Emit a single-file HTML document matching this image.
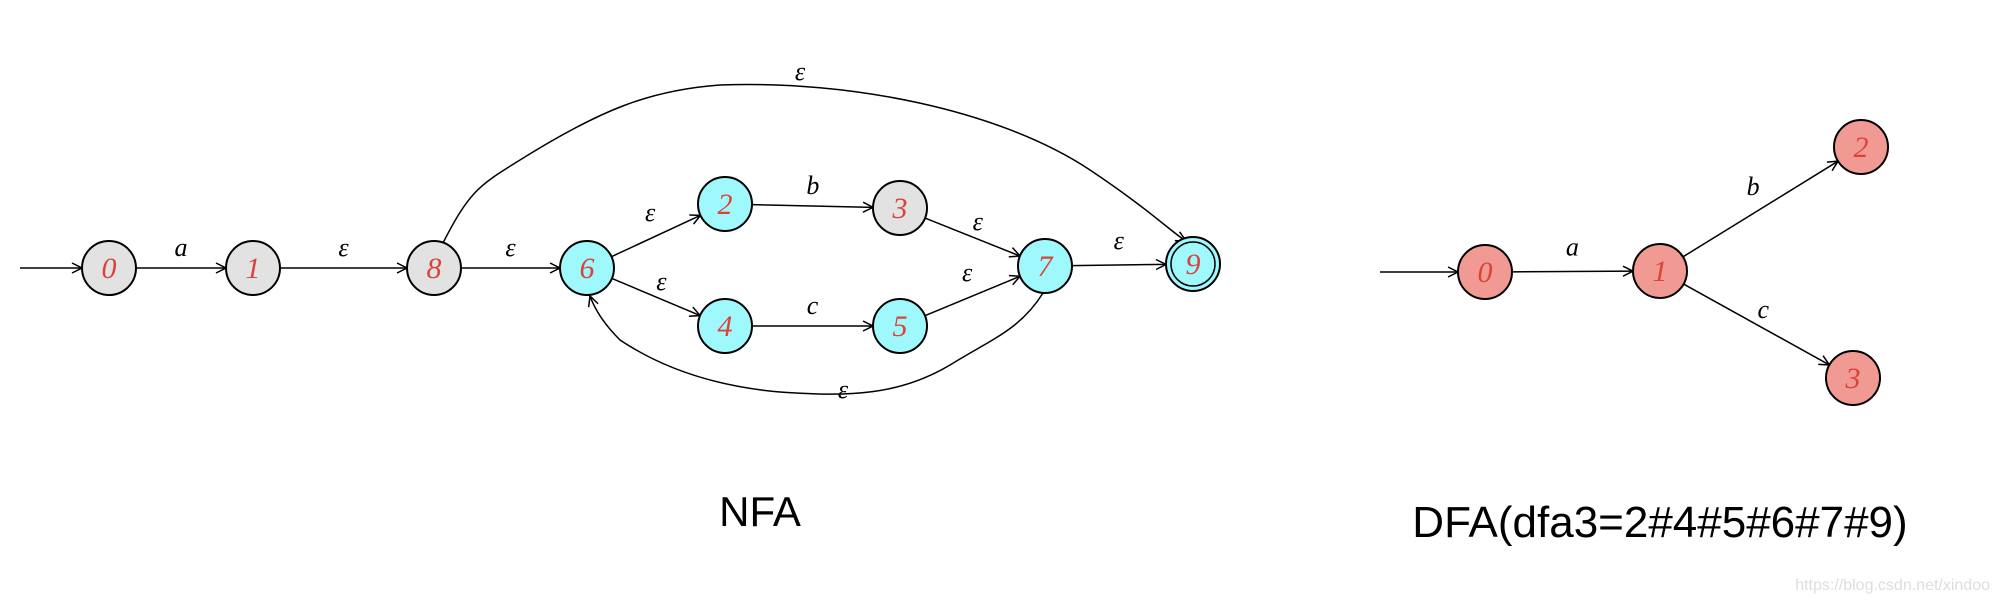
<!DOCTYPE html>
<html><head><meta charset="utf-8"><style>
html,body{margin:0;padding:0;background:#fff;width:2002px;height:604px;overflow:hidden}
svg{display:block}
.t{font-family:"Liberation Serif",serif;font-style:italic}
</style></head><body>
<svg id="c" width="2002" height="604" viewBox="0 0 2002 604">
<defs><marker id="ar" viewBox="0 0 12 12" refX="11" refY="6" markerWidth="12" markerHeight="12" markerUnits="userSpaceOnUse" orient="auto"><path d="M1,1 L11,6 L1,11" fill="none" stroke="#000" stroke-width="1.5"/></marker></defs>
<text x="760" y="526" font-family="Liberation Sans, sans-serif" font-size="42" text-anchor="middle">NFA</text>
<text x="1660" y="537" font-family="Liberation Sans, sans-serif" font-size="44" text-anchor="middle">DFA(dfa3=2#4#5#6#7#9)</text>
<text x="1990" y="590" font-family="Liberation Sans, sans-serif" font-size="16" fill="#ddd" text-anchor="end">https://blog.csdn.net/xindoo</text>
</svg>
<script>
const nodeLabels=["0","1","8","6","2","3","4","5","7","9","0","1","2","3"];
const nodeX=[109,253,434,587,725,900,725,900,1045,1193,1485,1660,1861,1853];
const nodeY=[268,268,268,268,204,208,326,326,266,264,272,271,147,378];
const nodeFill=["#e2e2e2","#e2e2e2","#e2e2e2","#9ff8fb","#9ff8fb","#e2e2e2","#9ff8fb","#9ff8fb","#9ff8fb","#9ff8fb","#f19a93","#f19a93","#f19a93","#f19a93"];
const edgeFrom=[0,1,2,3,3,4,6,5,7,8,10,11,11];
const edgeTo=[1,2,3,4,6,5,7,8,8,9,11,12,13];
const edgeLabels=["a","ε","ε","ε","ε","b","c","ε","ε","ε","a","b","c"];
const R=27;
const svg=document.getElementById('c');
const NS='http://www.w3.org/2000/svg';
function mk(t,a){const e=document.createElementNS(NS,t);for(const k in a)e.setAttribute(k,a[k]);svg.appendChild(e);return e;}
// start arrows
let s1=mk('line',{x1:20,y1:268,x2:nodeX[0]-R,y2:268,stroke:'#000','stroke-width':1.5,'marker-end':'url(#ar)'});


let s2=mk('line',{x1:1380,y1:272,x2:nodeX[10]-R,y2:272,stroke:'#000','stroke-width':1.5,'marker-end':'url(#ar)'});


// curved edges
let c1=mk('path',{d:'M443,243 C470,190 480,185 520,160 C600,110 650,90 720,85 C850,80 1000,110 1090,170 C1150,210 1175,235 1186,241',fill:'none',stroke:'#000','stroke-width':1.5,'marker-end':'url(#ar)'});


let c2=mk('path',{d:'M1043,293 C1020,330 990,340 950,365 C900,395 850,397 780,392 C700,385 650,360 620,340 C605,325 595,310 590,296',fill:'none',stroke:'#000','stroke-width':1.5,'marker-end':'url(#ar)'});


let l1=mk('text',{x:800,y:80,'font-size':26,'text-anchor':'middle',class:'t'});l1.textContent='ε';


let l2=mk('text',{x:843,y:398,'font-size':26,'text-anchor':'middle',class:'t'});l2.textContent='ε';


for(let i=0;i<edgeFrom.length;i++){
  const a=edgeFrom[i],b=edgeTo[i];
  const dx=nodeX[b]-nodeX[a],dy=nodeY[b]-nodeY[a],d=Math.hypot(dx,dy);
  const ux=dx/d,uy=dy/d;
  const ln=mk('line',{x1:nodeX[a]+ux*R,y1:nodeY[a]+uy*R,x2:nodeX[b]-ux*R,y2:nodeY[b]-uy*R,stroke:'#000','stroke-width':1.5,'marker-end':'url(#ar)'});
  
  
  const mx=(nodeX[a]+nodeX[b])/2,my=(nodeY[a]+nodeY[b])/2;
  const tx=mk('text',{x:mx+uy*14,y:my-Math.abs(ux)*12-(uy<0?4:0)+(uy>0.3?4:0),'font-size':26,'text-anchor':'middle',class:'t'});
  tx.textContent=edgeLabels[i];
  
  
}
for(let i=0;i<nodeLabels.length;i++){
  const g=mk('circle',{cx:nodeX[i],cy:nodeY[i],r:R,fill:nodeFill[i],stroke:'#000','stroke-width':2});
  
  
  if(i===9){const g2=mk('circle',{cx:nodeX[i],cy:nodeY[i],r:R-5,fill:'none',stroke:'#000','stroke-width':1.5});
    
    }
  const t=mk('text',{x:nodeX[i],y:nodeY[i]+10,'font-size':30,'text-anchor':'middle',fill:'#d9433a',class:'t'});
  t.textContent=nodeLabels[i];
  
  
}
</script>
</body></html>
